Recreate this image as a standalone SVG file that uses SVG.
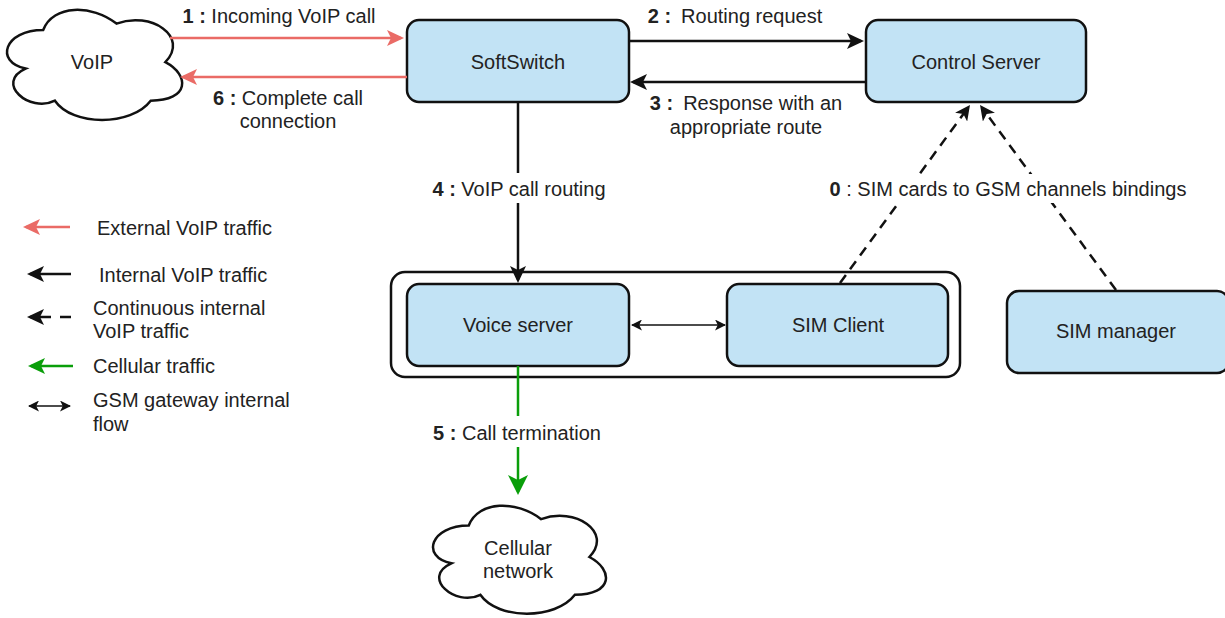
<svg xmlns="http://www.w3.org/2000/svg" width="1225" height="618" viewBox="0 0 1225 618">
<style>
text{font-family:"Liberation Sans",Arial,sans-serif;font-size:20px;fill:#222}
.c{text-anchor:middle}
.b{font-weight:bold}
.box{fill:#c2e3f5;stroke:#111;stroke-width:2.5}
.cloud{fill:#fff;stroke:#111;stroke-width:2.5}
.blk{stroke:#111;stroke-width:2.5;fill:none}
.red{stroke:#ea6b66;stroke-width:2.5;fill:none}
.grn{stroke:#0a9e0a;stroke-width:2.5;fill:none}
.dsh{stroke:#111;stroke-width:2.5;fill:none;stroke-dasharray:10 7}
.thin{stroke:#111;stroke-width:1.7;fill:none}
.bg{fill:#fff}
</style>
<defs>
<marker id="aB" markerUnits="userSpaceOnUse" viewBox="0 0 17 16" markerWidth="17" markerHeight="16" refX="14" refY="8" orient="auto"><path d="M0,0 L17,8 L0,16 L4,8 Z" fill="#111"/></marker>
<marker id="aR" markerUnits="userSpaceOnUse" viewBox="0 0 17 16" markerWidth="17" markerHeight="16" refX="14" refY="8" orient="auto"><path d="M0,0 L17,8 L0,16 L4,8 Z" fill="#ea6b66"/></marker>
<marker id="aG" markerUnits="userSpaceOnUse" viewBox="0 0 20 20" markerWidth="20" markerHeight="20" refX="17" refY="10" orient="auto"><path d="M0,0 L20,10 L0,20 L5,10 Z" fill="#0a9e0a"/></marker>
<marker id="aGs" markerUnits="userSpaceOnUse" viewBox="0 0 17 16" markerWidth="17" markerHeight="16" refX="14" refY="8" orient="auto"><path d="M0,0 L17,8 L0,16 L4,8 Z" fill="#0a9e0a"/></marker>
<marker id="aD" markerUnits="userSpaceOnUse" viewBox="0 0 15 15" markerWidth="15" markerHeight="15" refX="12" refY="7.5" orient="auto"><path d="M0,0 L15,7.5 L0,15 L3.8,7.5 Z" fill="#111"/></marker>
<marker id="aT" markerUnits="userSpaceOnUse" viewBox="0 0 11 11" markerWidth="11" markerHeight="11" refX="10" refY="5.5" orient="auto-start-reverse"><path d="M0,0 L11,5.5 L0,11 L2.8,5.5 Z" fill="#111"/></marker>
</defs>

<g id="voip">
<path class="cloud" d="M25,25 C5,25 0,50 16,55 C0,66 18,90 31,80 C40,100 70,100 80,80 C100,80 100,60 87.5,50 C100,30 80,10 62.5,20 C50,5 30,5 25,25 Z" transform="translate(-5.7,-2.1) scale(1.955,1.285)" vector-effect="non-scaling-stroke"/>
<text class="c" x="92" y="69">VoIP</text>
</g>

<g id="softswitch">
<rect class="box" x="407" y="20" width="222" height="82" rx="12"/>
<text class="c" x="518" y="69">SoftSwitch</text>
</g>

<g id="control-server">
<rect class="box" x="866" y="20" width="220" height="82" rx="12"/>
<text class="c" x="976" y="69">Control Server</text>
</g>

<g id="gsm-gateway">
<rect x="391" y="272" width="569" height="105" rx="14" fill="#fff" stroke="#111" stroke-width="2.5"/>
</g>

<g id="voice-server">
<rect class="box" x="407" y="284" width="222" height="82" rx="12"/>
<text class="c" x="518" y="332">Voice server</text>
</g>

<g id="sim-client">
<rect class="box" x="727" y="284" width="221" height="82" rx="12"/>
<text class="c" x="838" y="332">SIM Client</text>
</g>

<g id="sim-manager">
<rect class="box" x="1007" y="291" width="222" height="82" rx="12"/>
<text class="c" x="1116" y="338">SIM manager</text>
</g>

<g id="cellular">
<path class="cloud" d="M25,25 C5,25 0,50 16,55 C0,66 18,90 31,80 C40,100 70,100 80,80 C100,80 100,60 87.5,50 C100,30 80,10 62.5,20 C50,5 30,5 25,25 Z" transform="translate(420.5,494) scale(1.93,1.26)" vector-effect="non-scaling-stroke"/>
<text class="c" x="518" y="555">Cellular</text>
<text class="c" x="518" y="578">network</text>
</g>

<g id="connectors">
<line class="red" x1="170" y1="38" x2="401" y2="38" marker-end="url(#aR)"/>
<line class="red" x1="407" y1="77" x2="183" y2="77" marker-end="url(#aR)"/>
<line class="blk" x1="629" y1="41" x2="861" y2="41" marker-end="url(#aB)"/>
<line class="blk" x1="866" y1="82" x2="633" y2="82" marker-end="url(#aB)"/>
<line class="blk" x1="518" y1="102" x2="518" y2="280" marker-end="url(#aB)"/>
<line class="grn" x1="518" y1="366" x2="518" y2="492" marker-end="url(#aG)"/>
<line class="thin" x1="632" y1="325" x2="725" y2="325" marker-start="url(#aT)" marker-end="url(#aT)"/>
<line class="dsh" x1="840" y1="283" x2="968.2" y2="107.4" marker-end="url(#aD)"/>
<line class="dsh" x1="1116" y1="290" x2="981.8" y2="107.4" marker-end="url(#aD)"/>
</g>

<g id="labels">
<text class="c" x="279" y="23"><tspan class="b">1 :</tspan> Incoming VoIP call</text>
<text class="c" x="288" y="105"><tspan class="b">6 :</tspan> Complete call</text>
<text class="c" x="288" y="128">connection</text>
<text class="c" x="735" y="23"><tspan class="b">2 :</tspan><tspan dx="10">Routing request</tspan></text>
<text class="c" x="746" y="110"><tspan class="b">3 :</tspan><tspan dx="10">Response with an</tspan></text>
<text class="c" x="746" y="134">appropriate route</text>
<rect class="bg" x="426" y="173" width="186" height="30"/>
<text class="c" x="519" y="196"><tspan class="b">4 :</tspan> VoIP call routing</text>
<rect class="bg" x="822" y="174" width="372" height="29"/>
<text class="c" x="1008" y="196"><tspan class="b">0</tspan> : SIM cards to GSM channels bindings</text>
<rect class="bg" x="428" y="416" width="178" height="31"/>
<text class="c" x="517" y="440"><tspan class="b">5 :</tspan> Call termination</text>
</g>

<g id="legend">
<line class="red" x1="70" y1="227" x2="26" y2="227" marker-end="url(#aR)"/>
<text x="97" y="235">External VoIP traffic</text>
<line class="blk" x1="71" y1="274" x2="30" y2="274" marker-end="url(#aB)"/>
<text x="99" y="282">Internal VoIP traffic</text>
<line class="blk" x1="71" y1="317" x2="30" y2="317" stroke-dasharray="11 9" marker-end="url(#aB)"/>
<text x="93" y="315">Continuous internal</text>
<text x="93" y="338">VoIP traffic</text>
<line class="grn" x1="73" y1="366" x2="31" y2="366" marker-end="url(#aGs)"/>
<text x="93" y="373">Cellular traffic</text>
<line class="thin" x1="29" y1="406" x2="70" y2="406" marker-start="url(#aT)" marker-end="url(#aT)"/>
<text x="93" y="407">GSM gateway internal</text>
<text x="93" y="431">flow</text>
</g>
</svg>
